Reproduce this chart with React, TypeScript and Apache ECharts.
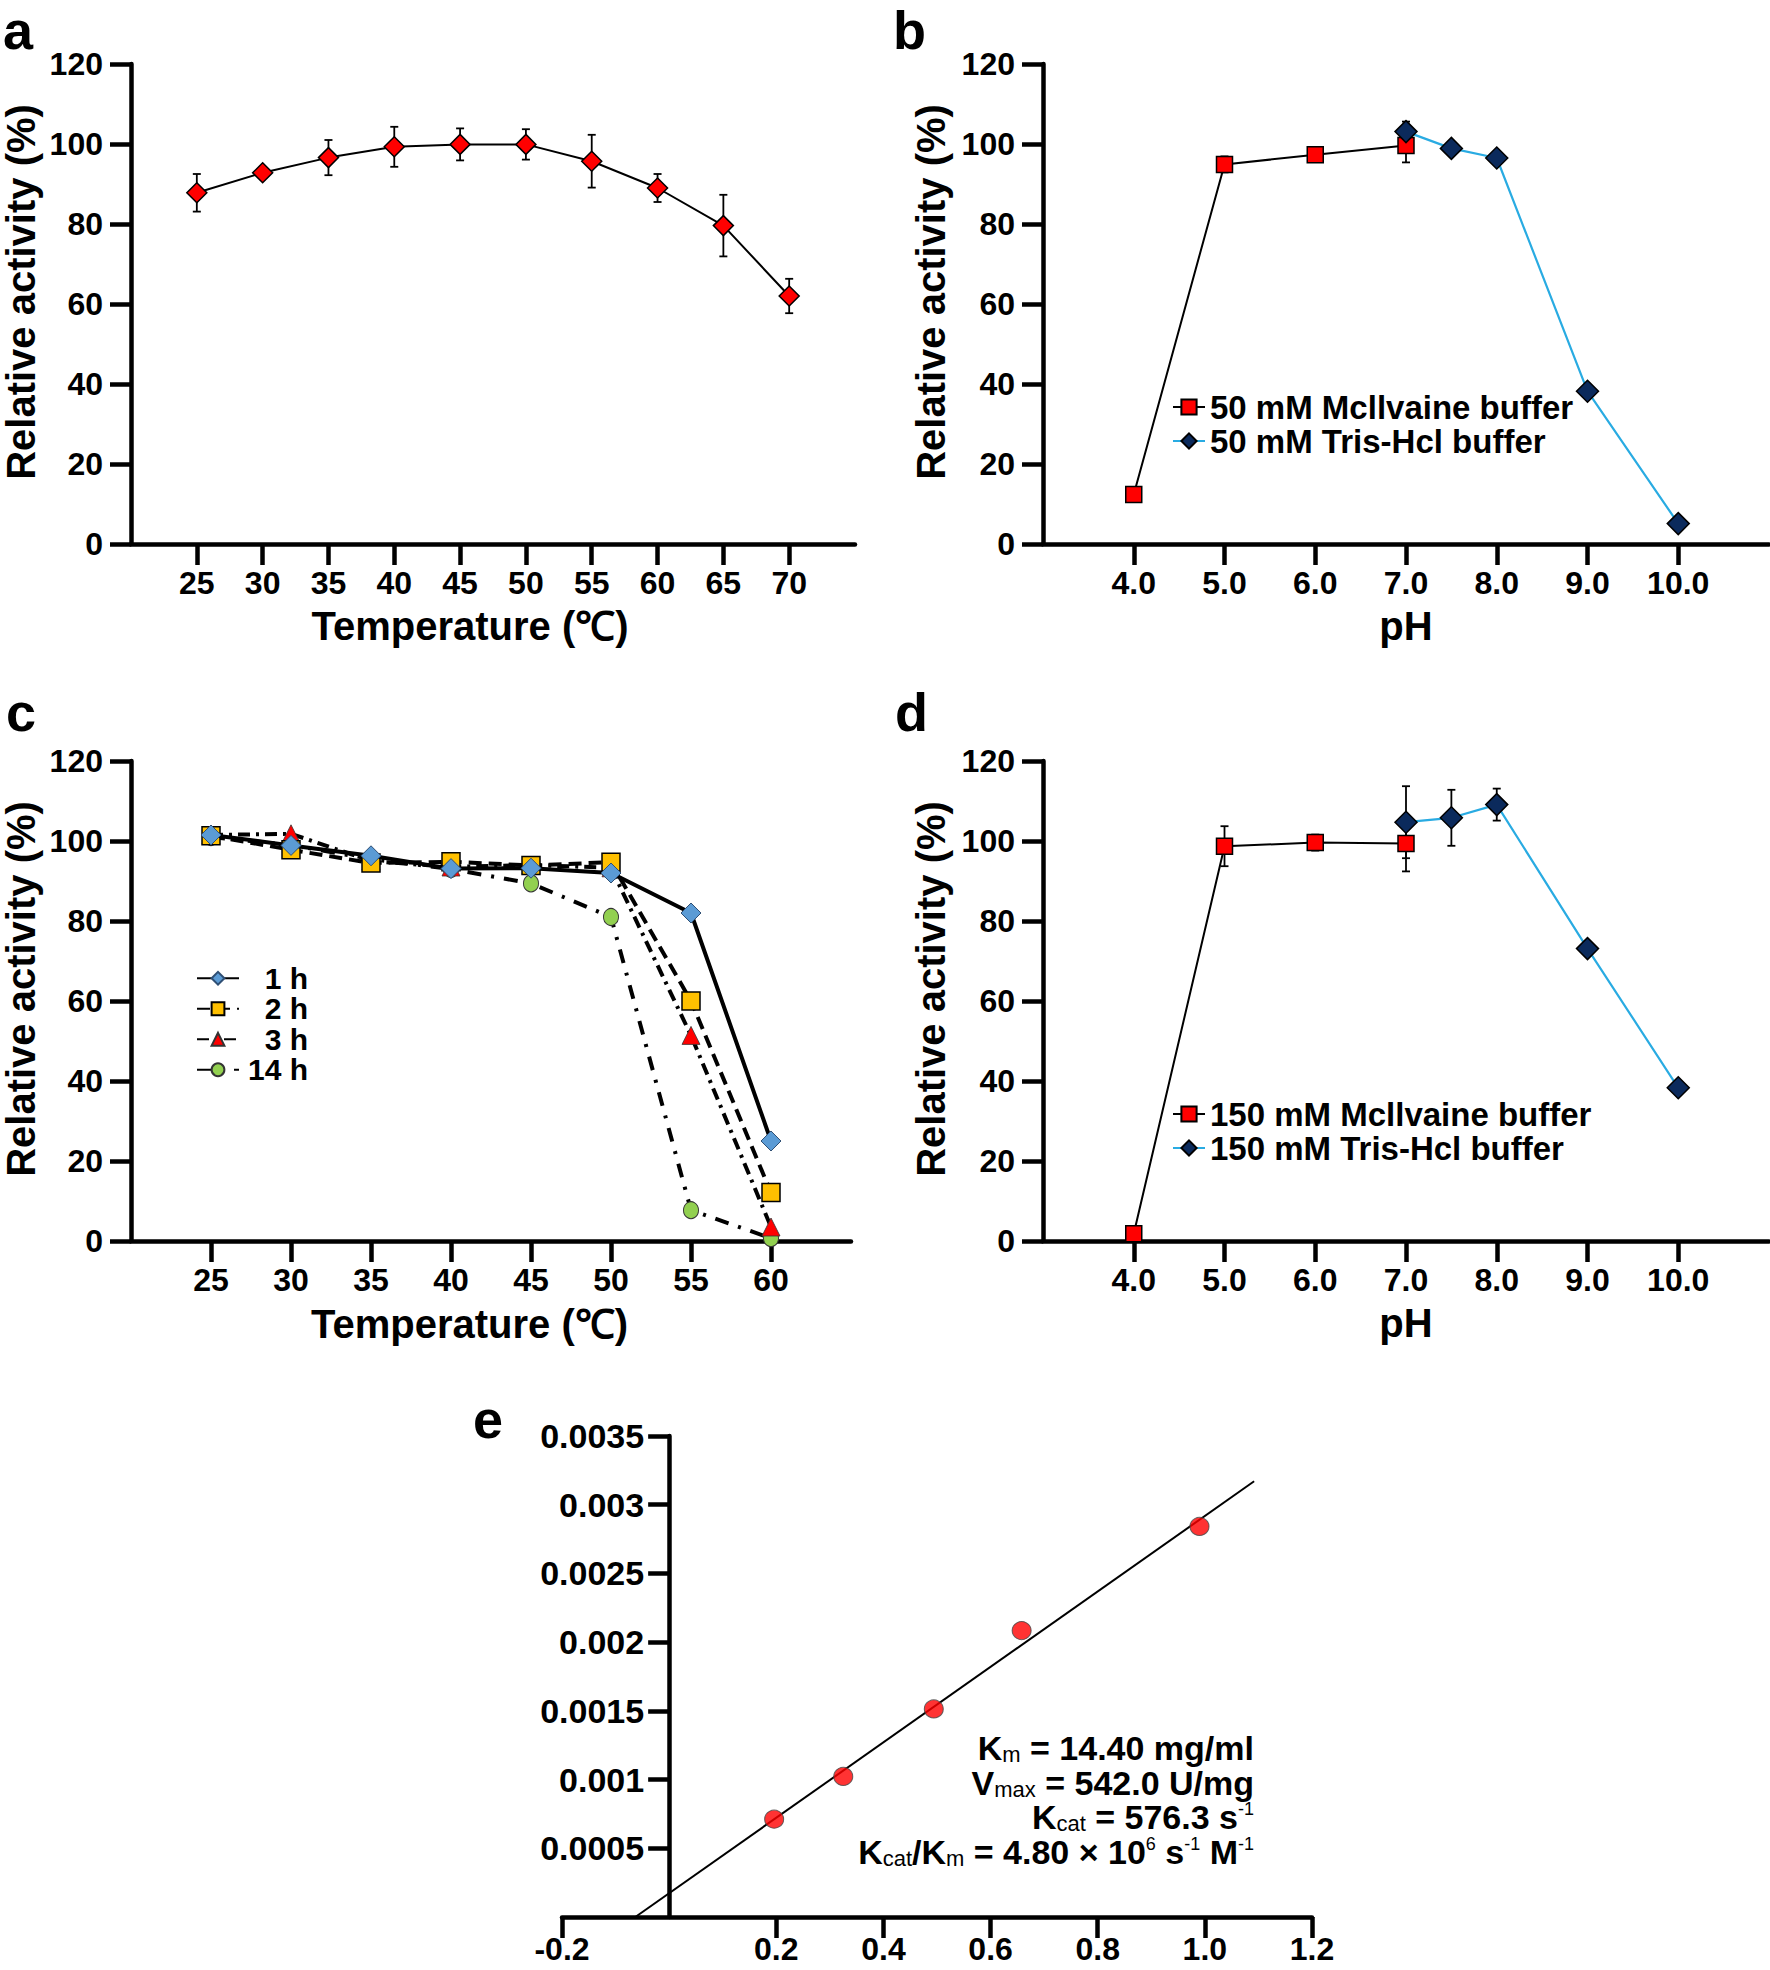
import React, { useEffect, useRef } from "react";
import * as echarts from "echarts";

// ---------- data ----------
// Panel a: temperature optimum
const tempA = [25, 30, 35, 40, 45, 50, 55, 60, 65, 70];
const actA = [87.8, 92.8, 96.6, 99.3, 99.9, 99.9, 95.7, 89.0, 79.6, 62.0];
const errA = [4.7, 1.0, 4.4, 5.0, 4.0, 3.8, 6.6, 3.5, 7.7, 4.3];
const tempTicksA = [25, 30, 35, 40, 45, 50, 55, 60, 65, 70];

// Panel b: pH optimum (50 mM)
const phMcB = [4.0, 5.0, 6.0, 7.0];
const actMcB = [12.4, 94.9, 97.3, 99.6];
const errMcB = [1.5, 2.0, 1.0, 4.2];
const phTrisB = [7.0, 7.5, 8.0, 9.0, 10.0];
const actTrisB = [103.1, 98.9, 96.5, 38.2, 5.1];
const errTrisB = [2.5, 1.0, 1.0, 1.0, 0.5];
const phTicks = [4, 5, 6, 7, 8, 9, 10];

// Panel c: thermostability
const tempC = [25, 30, 35, 40, 45, 50, 55, 60];
const c1h = [101.5, 98.9, 96.3, 93.1, 93.2, 92.0, 82.0, 25.0];
const c2h = [101.3, 97.8, 94.5, 94.8, 93.9, 94.7, 60.0, 12.1];
const c3h = [101.5, 101.8, 95.0, 93.5, 94.0, 93.3, 51.4, 3.5];
const c14h = [101.0, 99.0, 95.5, 93.0, 89.4, 81.0, 7.7, 0.7];
const tempTicksC = [25, 30, 35, 40, 45, 50, 55, 60];

// Panel d: pH stability (150 mM)
const phMcD = [4.0, 5.0, 6.0, 7.0];
const actMcD = [1.8, 98.7, 99.6, 99.4];
const errMcD = [0.5, 5.0, 2.0, 7.0];
const phTrisD = [7.0, 7.5, 8.0, 9.0, 10.0];
const actTrisD = [104.7, 105.8, 109.1, 73.1, 38.3];
const errTrisD = [9.0, 7.0, 4.0, 1.0, 1.0];

// Panel e: Lineweaver-Burk
const invS = [0.196, 0.325, 0.494, 0.658, 0.99];
const invV = [0.000712, 0.001023, 0.001514, 0.002084, 0.002842];
const fitEndX = 1.092;
const xTicksE = [-0.2, 0.2, 0.4, 0.6, 0.8, 1.0, 1.2];
const yTicksE = [0.0005, 0.001, 0.0015, 0.002, 0.0025, 0.003, 0.0035];

const FF = "'Liberation Sans', Arial, Helvetica, sans-serif";
const RED = "#ff0000";
const NAVY = "#0b2a5c";
const SKY = "#29abe2";
const AXW = 4.5;

function linFit(xs: number[], ys: number[]) {
  const n = xs.length;
  const mx = xs.reduce((a, b) => a + b, 0) / n;
  const my = ys.reduce((a, b) => a + b, 0) / n;
  let sxy = 0, sxx = 0;
  for (let i = 0; i < n; i++) {
    sxy += (xs[i] - mx) * (ys[i] - my);
    sxx += (xs[i] - mx) * (xs[i] - mx);
  }
  const m = sxy / sxx;
  return { m, b: my - m * mx };
}

const labelStyle = { fontSize: 32, fontWeight: "bold", color: "#000", fontFamily: FF };
const nameStyle = { fontSize: 40, fontWeight: "bold", color: "#000", fontFamily: FF };

function mkX(gridIndex: number, min: number, max: number, ticks: number[], fmt: (v: number) => string, name: string, nameGap: number, namePad: number[]) {
  return {
    type: "value", gridIndex, min, max,
    axisLine: { show: true, onZero: false, lineStyle: { color: "#000", width: AXW } },
    axisTick: { show: true, length: 21, lineStyle: { color: "#000", width: AXW }, customValues: ticks },
    axisLabel: { ...labelStyle, margin: 23, customValues: ticks, formatter: fmt },
    splitLine: { show: false },
    name, nameLocation: "middle", nameGap,
    nameTextStyle: { ...nameStyle, padding: namePad },
  };
}

function mkY(gridIndex: number, name: string, nameGap: number) {
  return {
    type: "value", gridIndex, min: 0, max: 120, interval: 20,
    axisLine: { show: true, onZero: false, lineStyle: { color: "#000", width: AXW } },
    axisTick: { show: true, length: 21, lineStyle: { color: "#000", width: AXW } },
    axisLabel: { ...labelStyle, margin: 28 },
    splitLine: { show: false },
    name, nameLocation: "middle", nameGap,
    nameTextStyle: { ...nameStyle, padding: [0, 0, 0, 24] },
  };
}

function errSeries(axis: number, xs: number[], ys: number[], errs: number[]) {
  return {
    type: "custom", xAxisIndex: axis, yAxisIndex: axis, z: 2, silent: true,
    data: xs.map((x, i) => [x, ys[i] - errs[i], ys[i] + errs[i]]),
    encode: { x: 0, y: [1, 2] },
    renderItem: (_p: any, api: any) => {
      const lo = api.coord([api.value(0), api.value(1)]);
      const hi = api.coord([api.value(0), api.value(2)]);
      const w = 4;
      const st = { stroke: "#000", lineWidth: 1.8 };
      return {
        type: "group",
        children: [
          { type: "line", shape: { x1: lo[0], y1: lo[1], x2: hi[0], y2: hi[1] }, style: st },
          { type: "line", shape: { x1: lo[0] - w, y1: lo[1], x2: lo[0] + w, y2: lo[1] }, style: st },
          { type: "line", shape: { x1: hi[0] - w, y1: hi[1], x2: hi[0] + w, y2: hi[1] }, style: st },
        ],
      };
    },
  };
}

const pair = (xs: number[], ys: number[]) => xs.map((x, i) => [x, ys[i]]);
const fmtInt = (v: number) => String(v);
const fmt1 = (v: number) => v.toFixed(1);

function buildOption() {
  const fit = linFit(invS, invV);
  const x0 = -fit.b / fit.m;
  const fitLine = [[x0, 0], [fitEndX, fit.b + fit.m * fitEndX]];

  const gridE = { left: 562, top: 1436, width: 750, height: 481 };
  const eMin = -0.2, eMax = 1.2;
  const zeroOffset = -((0 - eMin) / (eMax - eMin)) * gridE.width;

  const grids = [
    { left: 126, top: 64, width: 729, height: 480 },
    { left: 1043, top: 64, width: 726, height: 480 },
    { left: 127, top: 761, width: 724, height: 480 },
    { left: 1043, top: 761, width: 726, height: 480 },
    gridE,
  ];

  const xAxes = [
    mkX(0, 20, 75, tempTicksA, fmtInt, "Temperature (\u2103)", 62, [0, 46, 0, 0]),
    mkX(1, 3, 11, phTicks, fmt1, "pH", 62, [0, 0, 0, 0]),
    mkX(2, 20, 65, tempTicksC, fmtInt, "Temperature (\u2103)", 63, [0, 43, 0, 0]),
    mkX(3, 3, 11, phTicks, fmt1, "pH", 62, [0, 0, 0, 0]),
    {
      type: "value", gridIndex: 4, min: eMin, max: eMax,
      axisLine: { show: true, onZero: false, lineStyle: { color: "#000", width: AXW } },
      axisTick: { show: true, length: 21, lineStyle: { color: "#000", width: AXW }, customValues: xTicksE },
      axisLabel: {
        ...labelStyle, fontSize: 32, lineHeight: 32, margin: 16, customValues: xTicksE,
        formatter: (v: number) => (Math.abs(v - 1) < 1e-9 ? "1.0" : String(Math.round(v * 10) / 10)),
      },
      splitLine: { show: false },
    },
  ];

  const yAxes = [
    mkY(0, "Relative activity (%)", 90),
    mkY(1, "Relative activity (%)", 92),
    mkY(2, "Relative activity (%)", 90),
    mkY(3, "Relative activity (%)", 92),
    {
      type: "value", gridIndex: 4, min: 0, max: 0.0035, offset: zeroOffset,
      axisLine: { show: true, onZero: false, lineStyle: { color: "#000", width: AXW } },
      axisTick: { show: true, length: 21, lineStyle: { color: "#000", width: AXW }, customValues: yTicksE },
      axisLabel: { ...labelStyle, fontSize: 34, margin: 25, customValues: yTicksE, formatter: (v: number) => String(v) },
      splitLine: { show: false },
    },
  ];

  const series: any[] = [
    // a
    errSeries(0, tempA, actA, errA),
    {
      type: "line", name: "a", xAxisIndex: 0, yAxisIndex: 0, z: 3,
      data: pair(tempA, actA), symbol: "diamond", symbolSize: 20,
      itemStyle: { color: RED, borderColor: "#000", borderWidth: 1.5 },
      lineStyle: { color: "#000", width: 2 },
    },
    // b
    errSeries(1, phMcB, actMcB, errMcB),
    errSeries(1, phTrisB, actTrisB, errTrisB),
    {
      type: "line", name: "50 mM Mcllvaine buffer", xAxisIndex: 1, yAxisIndex: 1, z: 3,
      data: pair(phMcB, actMcB), symbol: "rect", symbolSize: 16,
      itemStyle: { color: RED, borderColor: "#000", borderWidth: 1.5 },
      lineStyle: { color: "#000", width: 2 },
    },
    {
      type: "line", name: "50 mM Tris-Hcl buffer", xAxisIndex: 1, yAxisIndex: 1, z: 4,
      data: pair(phTrisB, actTrisB), symbol: "diamond", symbolSize: 22,
      itemStyle: { color: NAVY, borderColor: "#000", borderWidth: 1.5 },
      lineStyle: { color: SKY, width: 2.2 },
    },
    // c (drawn bottom to top)
    {
      type: "line", name: "14 h", xAxisIndex: 2, yAxisIndex: 2, z: 3,
      data: pair(tempC, c14h), symbol: "circle", symbolSize: [15, 17],
      itemStyle: { color: "#92d050", borderColor: "#333", borderWidth: 1 },
      lineStyle: { color: "#000", width: 4, type: [14, 10, 3, 10] },
    },
    {
      type: "line", name: "3 h", xAxisIndex: 2, yAxisIndex: 2, z: 4,
      data: pair(tempC, c3h), symbol: "triangle", symbolSize: 18,
      itemStyle: { color: RED, borderColor: "#333", borderWidth: 0.8 },
      lineStyle: { color: "#000", width: 4, type: [12, 6, 3, 6] },
    },
    {
      type: "line", name: "2 h", xAxisIndex: 2, yAxisIndex: 2, z: 5,
      data: pair(tempC, c2h), symbol: "rect", symbolSize: 18,
      itemStyle: { color: "#ffc000", borderColor: "#000", borderWidth: 1.5 },
      lineStyle: { color: "#000", width: 4, type: [13, 7] },
    },
    {
      type: "line", name: "1 h", xAxisIndex: 2, yAxisIndex: 2, z: 6,
      data: pair(tempC, c1h), symbol: "diamond", symbolSize: 20,
      itemStyle: { color: "#5b9bd5", borderColor: "#2f4f74", borderWidth: 1 },
      lineStyle: { color: "#000", width: 4 },
    },
    // d
    errSeries(3, phMcD, actMcD, errMcD),
    errSeries(3, phTrisD, actTrisD, errTrisD),
    {
      type: "line", name: "150 mM Mcllvaine buffer", xAxisIndex: 3, yAxisIndex: 3, z: 3,
      data: pair(phMcD, actMcD), symbol: "rect", symbolSize: 16,
      itemStyle: { color: RED, borderColor: "#000", borderWidth: 1.5 },
      lineStyle: { color: "#000", width: 2 },
    },
    {
      type: "line", name: "150 mM Tris-Hcl buffer", xAxisIndex: 3, yAxisIndex: 3, z: 4,
      data: pair(phTrisD, actTrisD), symbol: "diamond", symbolSize: 22,
      itemStyle: { color: NAVY, borderColor: "#000", borderWidth: 1.5 },
      lineStyle: { color: SKY, width: 2.2 },
    },
    // e
    {
      type: "line", name: "fit", xAxisIndex: 4, yAxisIndex: 4, z: 2,
      data: fitLine, symbol: "none", lineStyle: { color: "#000", width: 2 },
    },
    {
      type: "scatter", name: "1/V", xAxisIndex: 4, yAxisIndex: 4, z: 3,
      data: pair(invS, invV), symbol: "circle", symbolSize: [19, 18],
      itemStyle: { color: RED, borderColor: "#444", borderWidth: 1 },
    },
  ];

  const legText = { fontSize: 33, fontWeight: "bold", color: "#000", fontFamily: FF, lineHeight: 34 };
  const legends = [
    {
      orient: "vertical", left: 1172, top: 390, padding: 0, itemWidth: 32, itemHeight: 19, itemGap: 0,
      selectedMode: false, textStyle: legText,
      data: ["50 mM Mcllvaine buffer", "50 mM Tris-Hcl buffer"],
    },
    {
      orient: "vertical", left: 1172, top: 1097, padding: 0, itemWidth: 32, itemHeight: 19, itemGap: 0,
      selectedMode: false, textStyle: legText,
      data: ["150 mM Mcllvaine buffer", "150 mM Tris-Hcl buffer"],
    },
    {
      orient: "vertical", left: 196, top: 963, padding: 0, itemWidth: 42, itemHeight: 16, itemGap: 0,
      selectedMode: false,
      textStyle: {
        fontSize: 30, fontWeight: "bold", color: "#000", fontFamily: FF, lineHeight: 30.5,
        rich: { r: { width: 64, align: "right", fontSize: 30, fontWeight: "bold", fontFamily: FF, color: "#000", lineHeight: 30.5 } },
      },
      formatter: (n: string) => "{r|" + n + "}",
      data: ["1 h", "2 h", "3 h", "14 h"],
    },
  ];

  const LFS = 54;
  const letter = (t: string, x: number, baseline: number) => ({
    type: "text", z: 10,
    style: {
      text: t, x, y: baseline - 0.3465 * LFS, fontSize: LFS, lineHeight: 36, fontWeight: "bold", fontFamily: FF,
      fill: "#000", verticalAlign: "middle", align: "left",
    },
  });

  const B = { fontSize: 34, fontWeight: "bold", fontFamily: FF, fill: "#000", lineHeight: 34.5 };
  const SUB = { fontSize: 22, fontWeight: "normal", fontFamily: FF, fill: "#000", lineHeight: 22, verticalAlign: "bottom" };
  const SUP = { fontSize: 18, fontWeight: "normal", fontFamily: FF, fill: "#000", lineHeight: 18, verticalAlign: "top" };
  const kinText =
    "{b|K}{s|m}{b| = 14.40 mg/ml}\n" +
    "{b|V}{s|max}{b| = 542.0 U/mg}\n" +
    "{b|K}{s|cat}{b| = 576.3 s}{p|-1}\n" +
    "{b|K}{s|cat}{b|/K}{s|m}{b| = 4.80 \u00d7 10}{p|6}{b| s}{p|-1}{b| M}{p|-1}";

  const graphic = [
    letter("a", 3, 49),
    letter("b", 893, 49),
    letter("c", 6, 731),
    letter("d", 895, 731),
    letter("e", 473, 1438),
    {
      type: "text", z: 10,
      style: {
        text: kinText, x: 1254, y: 1731, align: "right", verticalAlign: "top",
        fontSize: 34, fontWeight: "bold", fontFamily: FF, fill: "#000", lineHeight: 34.5,
        rich: { b: B, s: SUB, p: SUP },
      },
    },
  ];

  return {
    animation: false,
    backgroundColor: "#fff",
    textStyle: { fontFamily: FF },
    grid: grids,
    xAxis: xAxes,
    yAxis: yAxes,
    legend: legends,
    series,
    graphic,
  };
}

export default function App() {
  const ref = useRef<HTMLDivElement>(null);
  useEffect(() => {
    document.body.style.margin = "0";
    if (!ref.current) return;
    const chart = echarts.init(ref.current, undefined, { renderer: "svg" });
    chart.setOption(buildOption() as any);
    return () => chart.dispose();
  }, []);
  return <div ref={ref} style={{ width: 1770, height: 1970 }} />;
}
